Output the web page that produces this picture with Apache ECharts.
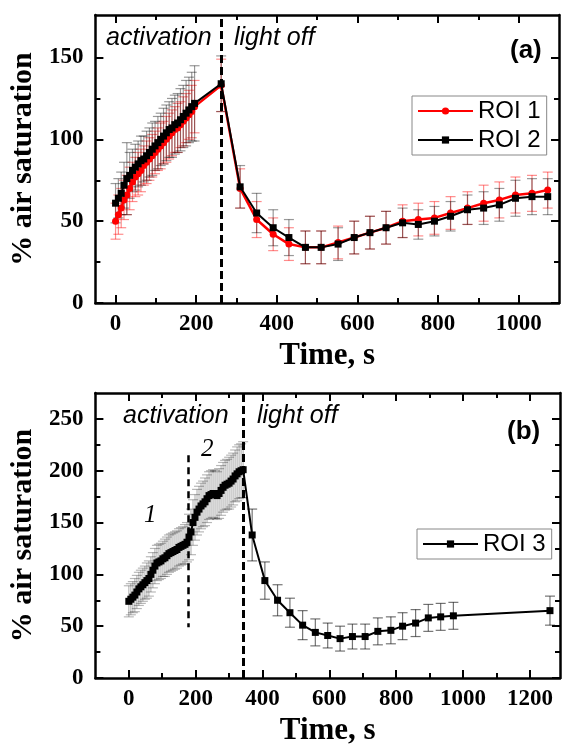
<!DOCTYPE html>
<html><head><meta charset="utf-8">
<script src="https://cdn.jsdelivr.net/npm/echarts@6/dist/echarts.min.js"></script>
<style>html,body{margin:0;padding:0;background:#fff}#c{width:564px;height:748px}</style>
</head><body><div id="c"></div>
<script>
// ---------- Panel (a) data ----------
const tA_act = [0,7,14,21,28,35,42,49,56,63,70,77,84,91,98,105,112,119,126,133,140,147,154,161,168,175,182,189,196];
const roi1_act = [50,54,58,63,66,70,74,77,79,81,84,86,88,90,92,94,96,98,100,102,104,106,107,109,111,113,115,117,120];
const roi1_actErr = [11,12,12,12,12,13,12,12,13,13,12,13,13,13,13,13,14,13,14,14,14,14,15,14,15,15,15,16,16];
const roi2_act = [61,64,67,72,76,78,81,83,85,87,88,90,92,94,96,98,100,102,104,106,107,109,110,112,114,116,118,120,122];
const roi2_actErr = [12,12,13,14,22,14,13,14,14,15,14,15,15,16,15,16,16,17,17,17,18,18,18,19,19,20,20,21,23];
const tA_off = [262,309,350,391,430,471,510,552,592,631,671,712,751,791,831,873,913,952,992,1033,1072];
const roi1_off = [133,70,51,42,36,34,34,37,40,43,46,50,51,52,55,58,61,63,66,67,69];
const roi1_offErr = [16,12,11,10,10,10,10,10,10,10,10,10,10,10,10,10,11,11,11,11,11];
const roi2_off = [134,71,55,46,40,34,34,36,40,43,46,49,48,50,53,57,58,60,64,65,65];
const roi2_offErr = [17,13,12,11,11,10,10,10,10,10,10,9,9,9,9,9,10,10,11,11,11];
const lightOffA = 262;

// ---------- Panel (b) data ----------
const tB_p1 = [0,6,12,18,24,30,36,42,48,54,60,66,72,78,84,90,96,102,108,114,120,126,132,138,144,150,156,162,168,174];
const roi3_p1 = [74,76,78,80,83,86,88,90,92,94,96,100,104,108,111,112,113,115,116,118,120,121,122,123,124,126,127,128,129,131];
const roi3_p1Err = [15,15,15,16,16,16,16,16,16,17,17,17,17,17,17,17,17,17,18,18,18,18,18,18,18,18,18,18,19,19];
const tB_p2 = [180,186,192,198,204,210,216,222,228,234,240,246,252,258,264,270,276,282,288,294,300,306,312,318,324,330,336,342];
const roi3_p2 = [136,141,150,155,160,163,166,168,170,173,176,177,178,177,176,178,181,184,186,187,188,190,192,195,197,199,200,201];
const roi3_p2Err = [22,22,22,22,22,22,22,22,23,23,23,23,23,23,23,24,24,24,24,24,25,25,25,25,26,26,26,27];
const tB_off = [369,407,445,482,520,558,595,632,669,707,745,784,819,858,896,933,971,1260];
const roi3_off = [138,94,75,63,51,44,41,38,40,40,45,46,50,53,58,59,60,65];
const roi3_offErr = [25,18,15,14,14,13,12,12,12,12,13,13,13,13,13,13,13,14];
const phaseSplitB = 178;
const phaseSplitB_range = [49, 215];
const lightOffB = 342;

// ---------- ticks ----------
const xMajorA = [0,200,400,600,800,1000];
const xMinorA = [100,300,500,700,900];
const yMajorA = [0,50,100,150];
const yMinorA = [25,75,125];
const xMajorB = [0,200,400,600,800,1000,1200];
const xMinorB = [100,300,500,700,900,1100];
const yMajorB = [0,50,100,150,200,250];
const yMinorB = [25,75,125,175,225];

const SERIF = "'Liberation Serif','Times New Roman',serif";
const SANS = "'Liberation Sans',Arial,sans-serif";

function zip(t, v, e) { return t.map((x, i) => e ? [x, v[i], e[i]] : [x, v[i]]); }

function axes(gi, dim, min, max, majors, minors, name, nameGap) {
  const pos = dim === 'x' ? ['bottom', 'top'] : ['left', 'right'];
  const out = [];
  pos.forEach((p, k) => {
    out.push({
      type: 'value', gridIndex: gi, position: p, min: min, max: max,
      axisLine: { show: true, onZero: false, lineStyle: { color: '#000', width: 2.5 } },
      axisTick: { show: true, inside: true, length: 8, customValues: majors, lineStyle: { color: '#000', width: 2 } },
      axisLabel: k === 0 ? { show: true, customValues: majors, formatter: v => String(v), color: '#000', fontFamily: SERIF, fontWeight: 'bold', fontSize: 23, margin: dim === 'x' ? 10 : 12 } : { show: false },
      splitLine: { show: false },
      name: k === 0 ? name : '', nameLocation: 'middle', nameGap: nameGap,
      nameTextStyle: { color: '#000', fontFamily: SERIF, fontWeight: 'bold', fontSize: dim === 'x' ? 31 : 30 }
    });
    out.push({
      type: 'value', gridIndex: gi, position: p, min: min, max: max,
      axisLine: { show: false, onZero: false },
      axisTick: { show: true, inside: true, length: 5, customValues: minors, lineStyle: { color: '#000', width: 2 } },
      axisLabel: { show: false }, splitLine: { show: false }
    });
  });
  return out;
}

function errRender(color, cap, lw) {
  return function (params, api) {
    const x = api.value(0), y = api.value(1), e = api.value(2);
    const top = api.coord([x, y + e]);
    const bot = api.coord([x, y - e]);
    const st = { stroke: color, lineWidth: lw };
    return { type: 'group', children: [
      { type: 'line', shape: { x1: top[0], y1: top[1], x2: bot[0], y2: bot[1] }, style: st },
      { type: 'line', shape: { x1: top[0] - cap, y1: top[1], x2: top[0] + cap, y2: top[1] }, style: st },
      { type: 'line', shape: { x1: bot[0] - cap, y1: bot[1], x2: bot[0] + cap, y2: bot[1] }, style: st }
    ] };
  };
}

function errSeries(xi, yi, data, color, cap) {
  return { type: 'custom', xAxisIndex: xi, yAxisIndex: yi, data: data, renderItem: errRender(color, cap, 1.2),
    encode: { x: 0, y: 1 }, z: 1, silent: true, clip: false };
}

const tA = tA_act.concat(tA_off);
const r1 = roi1_act.concat(roi1_off), r1e = roi1_actErr.concat(roi1_offErr);
const r2 = roi2_act.concat(roi2_off), r2e = roi2_actErr.concat(roi2_offErr);
const tB_act = tB_p1.concat(tB_p2);
const r3_act = roi3_p1.concat(roi3_p2), r3e_act = roi3_p1Err.concat(roi3_p2Err);
const tB = tB_act.concat(tB_off);
const r3 = r3_act.concat(roi3_off);

const dash = { color: '#000', width: 3, type: [8, 4] };

const option = {
  animation: false,
  backgroundColor: '#fff',
  grid: [
    { left: 95, right: 5, top: 15, height: 288 },
    { left: 95, right: 4, top: 393, height: 285 }
  ],
  xAxis: [].concat(
    axes(0, 'x', -50, 1100, xMajorA, xMinorA, 'Time, s', 37),
    axes(1, 'x', -100, 1290, xMajorB, xMinorB, 'Time, s', 37)
  ),
  yAxis: [].concat(
    axes(0, 'y', 0, 176, yMajorA, yMinorA, '% air saturation', 44),
    axes(1, 'y', 0, 275, yMajorB, yMinorB, '% air saturation', 44)
  ),
  legend: [
    { data: ['ROI 1', 'ROI 2'], orient: 'vertical', left: 412, top: 96, borderColor: '#888', borderWidth: 1,
      padding: [3, 6, 3, 5], itemGap: 5, itemWidth: 55, itemHeight: 9, backgroundColor: '#fff',
      textStyle: { color: '#000', fontFamily: SANS, fontSize: 24 } },
    { data: ['ROI 3'], orient: 'vertical', left: 417, top: 529, borderColor: '#888', borderWidth: 1,
      padding: [3, 6, 3, 5], itemGap: 5, itemWidth: 55, itemHeight: 9, backgroundColor: '#fff',
      textStyle: { color: '#000', fontFamily: SANS, fontSize: 24 } }
  ],
  graphic: [
    { type: 'text', left: 106, top: 26, style: { text: 'activation', font: 'italic 25px ' + SANS, fill: '#000' } },
    { type: 'text', left: 234, top: 26, style: { text: 'light off', font: 'italic 25px ' + SANS, fill: '#000' } },
    { type: 'text', left: 510, top: 38, style: { text: '(a)', font: 'bold 26px ' + SANS, fill: '#000' } },
    { type: 'text', left: 123, top: 404, style: { text: 'activation', font: 'italic 25px ' + SANS, fill: '#000' } },
    { type: 'text', left: 257, top: 404, style: { text: 'light off', font: 'italic 25px ' + SANS, fill: '#000' } },
    { type: 'text', left: 507, top: 419, style: { text: '(b)', font: 'bold 26px ' + SANS, fill: '#000' } },
    { type: 'text', left: 144, top: 503, style: { text: '1', font: 'italic 25px ' + SERIF, fill: '#000' } },
    { type: 'text', left: 201, top: 437, style: { text: '2', font: 'italic 25px ' + SERIF, fill: '#000' } }
  ],
  series: [
    errSeries(0, 0, zip(tA, r1, r1e), 'rgba(255,0,0,0.45)', 5),
    errSeries(0, 0, zip(tA, r2, r2e), 'rgba(0,0,0,0.4)', 5),
    { name: 'ROI 1', type: 'line', xAxisIndex: 0, yAxisIndex: 0, data: zip(tA, r1), color: '#ff0000',
      symbol: 'circle', symbolSize: 7, showAllSymbol: true, lineStyle: { width: 2.5, color: '#ff0000' },
      itemStyle: { color: '#ff0000' }, z: 2 },
    { name: 'ROI 2', type: 'line', xAxisIndex: 0, yAxisIndex: 0, data: zip(tA, r2), color: '#000',
      symbol: 'rect', symbolSize: 7, showAllSymbol: true, lineStyle: { width: 2, color: '#000' },
      itemStyle: { color: '#000' }, z: 3,
      markLine: { silent: true, symbol: ['none', 'none'], label: { show: false }, lineStyle: dash,
        data: [{ xAxis: lightOffA }] } },
    errSeries(4, 4, zip(tB_act, r3_act, r3e_act), 'rgba(0,0,0,0.28)', 5),
    errSeries(4, 4, zip(tB_off, roi3_off, roi3_offErr), 'rgba(0,0,0,0.55)', 5),
    { name: 'ROI 3', type: 'line', xAxisIndex: 4, yAxisIndex: 4, data: zip(tB, r3), color: '#000',
      symbol: 'rect', symbolSize: 7, showAllSymbol: true, lineStyle: { width: 2, color: '#000' },
      itemStyle: { color: '#000' }, z: 3,
      markLine: { silent: true, symbol: ['none', 'none'], label: { show: false }, lineStyle: dash,
        data: [
          { xAxis: lightOffB },
          [{ coord: [phaseSplitB, phaseSplitB_range[1]], lineStyle: { color: '#000', width: 2.5, type: [7, 5] } },
           { coord: [phaseSplitB, phaseSplitB_range[0]] }]
        ] } }
  ]
};

const chart = echarts.init(document.getElementById('c'), null, { renderer: 'canvas' });
chart.setOption(option);
</script></body></html>
